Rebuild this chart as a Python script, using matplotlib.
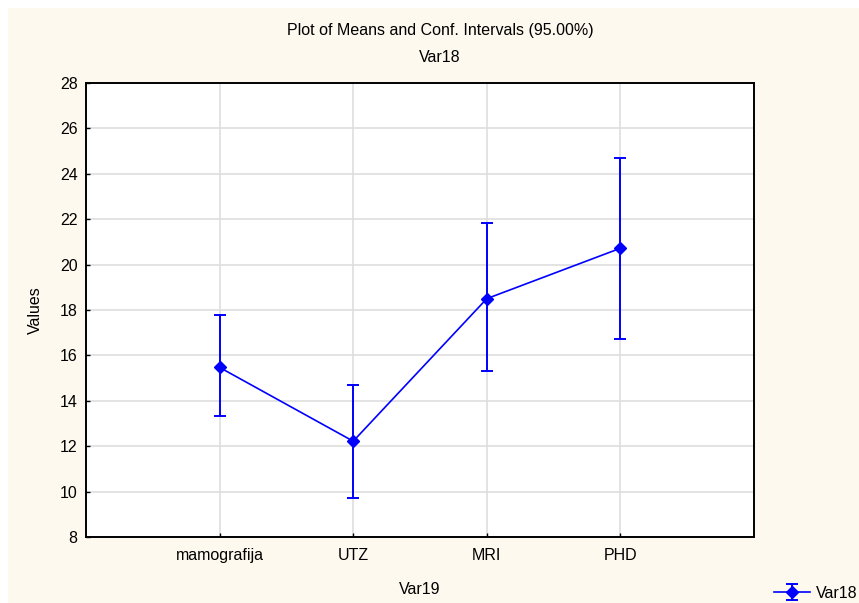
import numpy as np
import matplotlib.pyplot as plt
from matplotlib.patches import Rectangle

# data
categories = ['mamografija', 'UTZ', 'MRI', 'PHD']
means = [15.47, 12.22, 18.5, 20.72]
upper = [17.76, 14.7, 21.82, 24.7]
lower = [13.32, 9.74, 15.3, 16.72]
yticks = [8, 10, 12, 14, 16, 18, 20, 22, 24, 26, 28]

plt.rcParams['font.family'] = ['Liberation Sans', 'DejaVu Sans']
FS = 11.5

W, H = 859, 603
fig = plt.figure(figsize=(W / 100, H / 100), dpi=100, facecolor='white')
# cream panel with a thin white border top/left
fig.patches.append(Rectangle((8 / W, 0), 1, 1 - 8 / H, transform=fig.transFigure,
                             facecolor='#FDF9EE', edgecolor='none', zorder=-10))

ax = fig.add_axes([86 / W, 1 - 537 / H, (754 - 86) / W, (537 - 83) / H])
ax.set_facecolor('white')

x = np.arange(1, len(categories) + 1)
m = np.array(means)
err = [m - np.array(lower), np.array(upper) - m]
eb = ax.errorbar(x, m, yerr=err, color='#0000FF', lw=1.2, elinewidth=1.4,
                 capsize=4.5, capthick=1.4, marker='D', markersize=6,
                 label='Var18', zorder=3)

ax.set_xlim(0, len(categories) + 1)
ax.set_ylim(8, 28)
ax.set_xticks(x)
ax.set_xticklabels(categories)
ax.set_yticks(yticks)
ax.grid(True, color='#DEDEDE', lw=1.2)
ax.set_axisbelow(True)
ax.tick_params(direction='in', length=3, width=1, color='black',
               labelsize=FS, pad=6)
ax.tick_params(axis='x', pad=8)
for s in ax.spines.values():
    s.set_linewidth(1.4)
    s.set_color('black')

ax.set_ylabel('Values', fontsize=FS, labelpad=12)
fig.text(420 / W, 1 - 590 / H, 'Var19', ha='center', va='center', fontsize=FS)
fig.text(440 / W, 1 - 31 / H, 'Plot of Means and Conf. Intervals (95.00%)',
         ha='center', va='center', fontsize=FS)
fig.text(440 / W, 1 - 57 / H, 'Var18', ha='center', va='center', fontsize=FS)

fig.legend(handles=[eb], labels=['Var18'], loc='center left',
           bbox_to_anchor=(760 / W, 1 - 593 / H), frameon=False,
           fontsize=FS, handlelength=2.2, handletextpad=0.4)

fig.savefig('out.png', dpi=100, facecolor=fig.get_facecolor())
